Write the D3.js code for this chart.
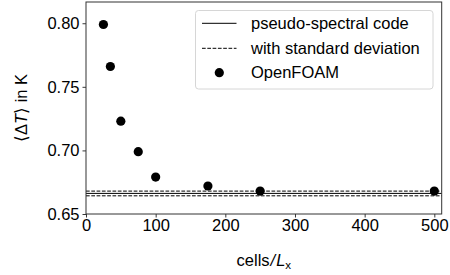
<!DOCTYPE html>
<html><head><meta charset="utf-8">
<script src="https://cdn.jsdelivr.net/npm/d3@7"></script>
<style>body{margin:0;background:#fff}svg{display:block;font-family:"Liberation Sans",Arial,Helvetica,sans-serif}</style>
</head><body><svg id="c" width="450" height="275"></svg>
<script>
const cells = [25, 35, 50, 75, 100, 175, 250, 500];
const deltaT = [0.799, 0.766, 0.723, 0.699, 0.679, 0.672, 0.668, 0.668];
const spectralMean = 0.6662;
const spectralStd = [0.6643, 0.6680];
const xTicks = [0, 100, 200, 300, 400, 500];
const yTicks = [0.65, 0.70, 0.75, 0.80];
const legendLabels = ["pseudo-spectral code", "with standard deviation", "OpenFOAM"];

const svg = d3.select("#c");
const L = 86, R = 441.7, T = 2, B = 214;
const fs = 16.5;
const x = d3.scaleLinear().domain([0, 510.6]).range([L, R]);
const y = d3.scaleLinear().domain([0.65, 0.8167]).range([B, T]);

// spectral lines
svg.append("line").attr("x1", L).attr("x2", R).attr("y1", y(spectralMean)).attr("y2", y(spectralMean))
  .attr("stroke", "#000").attr("stroke-width", 1);
spectralStd.forEach(v => {
  svg.append("line").attr("x1", L).attr("x2", R).attr("y1", y(v)).attr("y2", y(v))
    .attr("stroke", "#000").attr("stroke-width", 1).attr("stroke-dasharray", "3.7,1.6");
});

// points
svg.selectAll("circle.pt").data(cells).enter().append("circle")
  .attr("cx", (d) => x(d)).attr("cy", (d, i) => y(deltaT[i])).attr("r", 4.6).attr("fill", "#000");

// axes
const xa = svg.append("g").attr("transform", `translate(0,${B})`)
  .call(d3.axisBottom(x).tickValues(xTicks).tickFormat(d3.format("d")).tickSize(3.5).tickPadding(2));
const ya = svg.append("g").attr("transform", `translate(${L},0)`)
  .call(d3.axisLeft(y).tickValues(yTicks).tickFormat(d3.format(".2f")).tickSize(3.5).tickPadding(3));
[xa, ya].forEach(g => {
  g.select(".domain").remove();
  g.selectAll("line").attr("stroke", "#222").attr("stroke-width", 0.9);
  g.selectAll("text").attr("font-size", fs).attr("fill", "#000").attr("font-family", "Liberation Sans, Arial, sans-serif");
});

// frame
svg.append("rect").attr("x", L).attr("y", T).attr("width", R - L).attr("height", B - T)
  .attr("fill", "none").attr("stroke", "#333").attr("stroke-width", 1);

// legend
const lg = svg.append("g");
lg.append("rect").attr("x", 195.5).attr("y", 10.5).attr("width", 237.5).attr("height", 78.5)
  .attr("rx", 3).attr("fill", "#fff").attr("fill-opacity", 0.8).attr("stroke", "#d6d6d6").attr("stroke-width", 1);
const rowY = [23.3, 48.3, 72.7];
lg.append("line").attr("x1", 202).attr("x2", 236.5).attr("y1", rowY[0]).attr("y2", rowY[0]).attr("stroke", "#000").attr("stroke-width", 1);
lg.append("line").attr("x1", 202).attr("x2", 236.5).attr("y1", rowY[1]).attr("y2", rowY[1]).attr("stroke", "#000").attr("stroke-width", 1).attr("stroke-dasharray", "3.7,1.6");
lg.append("circle").attr("cx", 219.3).attr("cy", rowY[2]).attr("r", 4.6).attr("fill", "#000");
legendLabels.forEach((t, i) => {
  lg.append("text").attr("x", 251).attr("y", rowY[i]).attr("dy", "0.35em").attr("font-size", fs).text(t);
});

// x label
const xl = svg.append("text").attr("x", (L + R) / 2).attr("y", 266).attr("text-anchor", "middle").attr("font-size", fs);
xl.append("tspan").text("cells");
xl.append("tspan").attr("font-style", "italic").attr("dx", 1).text("/");
xl.append("tspan").attr("font-style", "italic").attr("dx", 1).text("L");
xl.append("tspan").attr("font-size", fs * 0.7).attr("dy", 3).text("x");

// y label
const yl = svg.append("text").attr("transform", `translate(27,${(T + B) / 2}) rotate(-90)`)
  .attr("text-anchor", "middle").attr("font-size", fs);
yl.append("tspan").text("⟨Δ");
yl.append("tspan").attr("font-style", "italic").text("T");
yl.append("tspan").text("⟩ in K");
</script></body></html>
